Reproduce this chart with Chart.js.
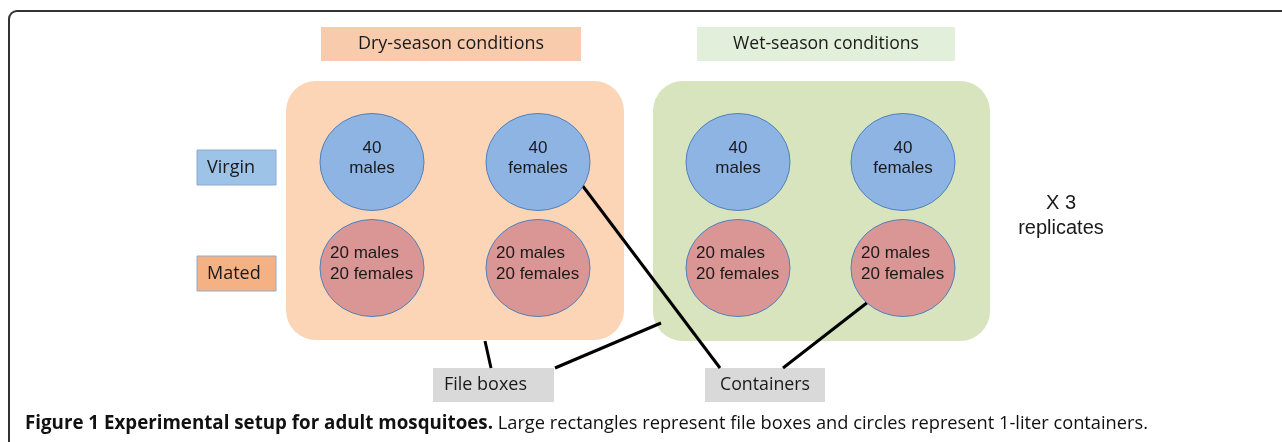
<!DOCTYPE html>
<html>
<head>
<meta charset="utf-8">
<script src="https://cdn.jsdelivr.net/npm/chart.js@4"></script>
<style>
  html, body { margin: 0; padding: 0; background: #fff; }
  canvas { display: block; }
</style>
</head>
<body>
<canvas id="diagram" width="1282" height="442"></canvas>
<script>
// text content of the figure
const conditionLabels = ['Dry-season conditions', 'Wet-season conditions'];
const stateLabels = ['Virgin', 'Mated'];
const virginText = [['40', 'males'], ['40', 'females'], ['40', 'males'], ['40', 'females']];
const matedText = [['20 males', '20 females'], ['20 males', '20 females'], ['20 males', '20 females'], ['20 males', '20 females']];
const unitLabels = ['File boxes', 'Containers'];
const replicateText = ['X 3', 'replicates'];
const captionBold = 'Figure 1 Experimental setup for adult mosquitoes.';
const captionRest = ' Large rectangles represent file boxes and circles represent 1-liter containers.';

// layout, in the units of the hidden axes (0..1282 by 0..442)
const colX = [372, 538, 738, 903];
const rowY = [162, 268];
const circleRx = 52, circleRy = 48.5;
const labelBoxes = [[321, 27, 581, 61], [697, 27, 955, 61]];
const fileBoxes = [[286, 81, 624, 340], [653, 81, 990, 341]];
const stateBoxes = [[197, 150, 276, 185], [197, 256, 276, 291]];
const unitBoxes = [[433, 368, 554, 402], [705, 368, 825, 402]];
const connectors = [
  [[582, 185], [720, 368]],
  [[868, 302], [783, 368]],
  [[485, 341], [491, 368]],
  [[661, 323], [555, 368]]
];

const colors = {
  dryLabel: '#f8cbad', wetLabel: '#e2efda',
  dryBox: '#fbd5b5', wetBox: '#d7e4bd',
  virgin: '#8eb4e3', mated: '#d99694', ring: '#4f81bd',
  virginTag: '#9dc3e6', matedTag: '#f4b183', tagEdge: '#8faad0',
  unit: '#d9d9d9', ink: '#1a1a1a'
};

const circlePoints = [];
rowY.forEach(y => colX.forEach(x => circlePoints.push({ x: x, y: y })));

const datasets = [{
  label: 'containers',
  type: 'scatter',
  data: circlePoints,
  pointRadius: 0,
  pointHoverRadius: 0
}];
connectors.forEach((c, i) => {
  datasets.push({
    label: 'link ' + i,
    type: 'line',
    data: c.map(p => ({ x: p[0], y: p[1] })),
    borderColor: '#000',
    borderWidth: 3,
    pointRadius: 0,
    fill: false,
    tension: 0
  });
});

function px(chart, x, y) {
  return [chart.scales.x.getPixelForValue(x), chart.scales.y.getPixelForValue(y)];
}

function rect(chart, b, fill, stroke, radius) {
  const ctx = chart.ctx;
  const [x0, y0] = px(chart, b[0], b[1]);
  const [x1, y1] = px(chart, b[2], b[3]);
  ctx.beginPath();
  if (radius) ctx.roundRect(x0, y0, x1 - x0, y1 - y0, radius);
  else ctx.rect(x0, y0, x1 - x0, y1 - y0);
  ctx.fillStyle = fill;
  ctx.fill();
  if (stroke) {
    ctx.strokeStyle = stroke;
    ctx.lineWidth = 1;
    ctx.stroke();
  }
}

function text(chart, str, x, y, font, align, maxW) {
  const ctx = chart.ctx;
  const [X, Y] = px(chart, x, y);
  ctx.font = font;
  ctx.fillStyle = colors.ink;
  ctx.textAlign = align || 'center';
  ctx.textBaseline = 'middle';
  if (maxW) ctx.fillText(str, X, Y, maxW);
  else ctx.fillText(str, X, Y);
}

const diagramPlugin = {
  id: 'diagram',
  beforeDatasetsDraw(chart) {
    const ctx = chart.ctx;
    ctx.save();
    // figure frame
    const [fx, fy] = px(chart, 9, 11);
    ctx.beginPath();
    ctx.moveTo(fx, chart.height + 5);
    ctx.lineTo(fx, fy + 8);
    ctx.arcTo(fx, fy, fx + 8, fy, 8);
    ctx.lineTo(chart.width + 5, fy);
    ctx.strokeStyle = '#333';
    ctx.lineWidth = 2;
    ctx.stroke();

    rect(chart, labelBoxes[0], colors.dryLabel);
    rect(chart, labelBoxes[1], colors.wetLabel);
    rect(chart, fileBoxes[0], colors.dryBox, null, 30);
    rect(chart, fileBoxes[1], colors.wetBox, null, 30);
    rect(chart, stateBoxes[0], colors.virginTag, colors.tagEdge);
    rect(chart, stateBoxes[1], colors.matedTag, colors.tagEdge);
    rect(chart, unitBoxes[0], colors.unit);
    rect(chart, unitBoxes[1], colors.unit);

    const calibri = '18px "Open Sans", sans-serif';
    conditionLabels.forEach((t, i) => {
      const b = labelBoxes[i];
      text(chart, t, (b[0] + b[2]) / 2, (b[1] + b[3]) / 2, '19px "Open Sans", sans-serif', 'center', 186);
    });
    text(chart, stateLabels[0], 207, 167.5, calibri, 'left', 49);
    text(chart, stateLabels[1], 207, 273.5, calibri, 'left', 54);
    text(chart, unitLabels[0], 444, 385, calibri, 'left', 83);
    text(chart, unitLabels[1], 720, 385, calibri, 'left', 90);
    ctx.restore();
  },
  afterDatasetsDraw(chart) {
    const ctx = chart.ctx;
    ctx.save();
    const meta = chart.getDatasetMeta(0);
    const rx = chart.scales.x.getPixelForValue(circleRx) - chart.scales.x.getPixelForValue(0);
    const ry = chart.scales.y.getPixelForValue(circleRy) - chart.scales.y.getPixelForValue(0);
    const arial = '17px "Liberation Sans", Arial, sans-serif';
    meta.data.forEach((el, i) => {
      const virgin = i < colX.length;
      ctx.beginPath();
      ctx.ellipse(el.x, el.y, rx, Math.abs(ry), 0, 0, Math.PI * 2);
      ctx.fillStyle = virgin ? colors.virgin : colors.mated;
      ctx.fill();
      ctx.strokeStyle = colors.ring;
      ctx.lineWidth = 1;
      ctx.stroke();
      const p = circlePoints[i];
      if (virgin) {
        const lines = virginText[i];
        text(chart, lines[0], p.x, p.y - 14, arial, 'center');
        text(chart, lines[1], p.x, p.y + 6, arial, 'center');
      } else {
        const lines = matedText[i - colX.length];
        text(chart, lines[0], p.x - 42, p.y - 15, arial, 'left');
        text(chart, lines[1], p.x - 42, p.y + 6, arial, 'left');
      }
    });

    text(chart, replicateText[0], 1061, 203, '20px "Liberation Sans", Arial, sans-serif', 'center');
    text(chart, replicateText[1], 1061, 228, '20px "Liberation Sans", Arial, sans-serif', 'center', 90);

    // caption
    const [cx, cy] = px(chart, 25, 424);
    ctx.textBaseline = 'middle';
    ctx.textAlign = 'left';
    ctx.fillStyle = '#111';
    ctx.font = 'bold 19px "Open Sans", sans-serif';
    ctx.fillText(captionBold, cx, cy, 468);
    ctx.font = '19px "Open Sans", sans-serif';
    ctx.fillText(captionRest, cx + 468, cy, 655);
    ctx.restore();
  }
};

new Chart(document.getElementById('diagram'), {
  type: 'scatter',
  data: { datasets: datasets },
  options: {
    responsive: false,
    animation: false,
    devicePixelRatio: 1,
    layout: { padding: 0 },
    plugins: { legend: { display: false }, tooltip: { enabled: false }, title: { display: false } },
    scales: {
      x: { type: 'linear', min: 0, max: 1282, display: false },
      y: { type: 'linear', min: 0, max: 442, reverse: true, display: false }
    }
  },
  plugins: [diagramPlugin]
});
</script>
</body>
</html>
